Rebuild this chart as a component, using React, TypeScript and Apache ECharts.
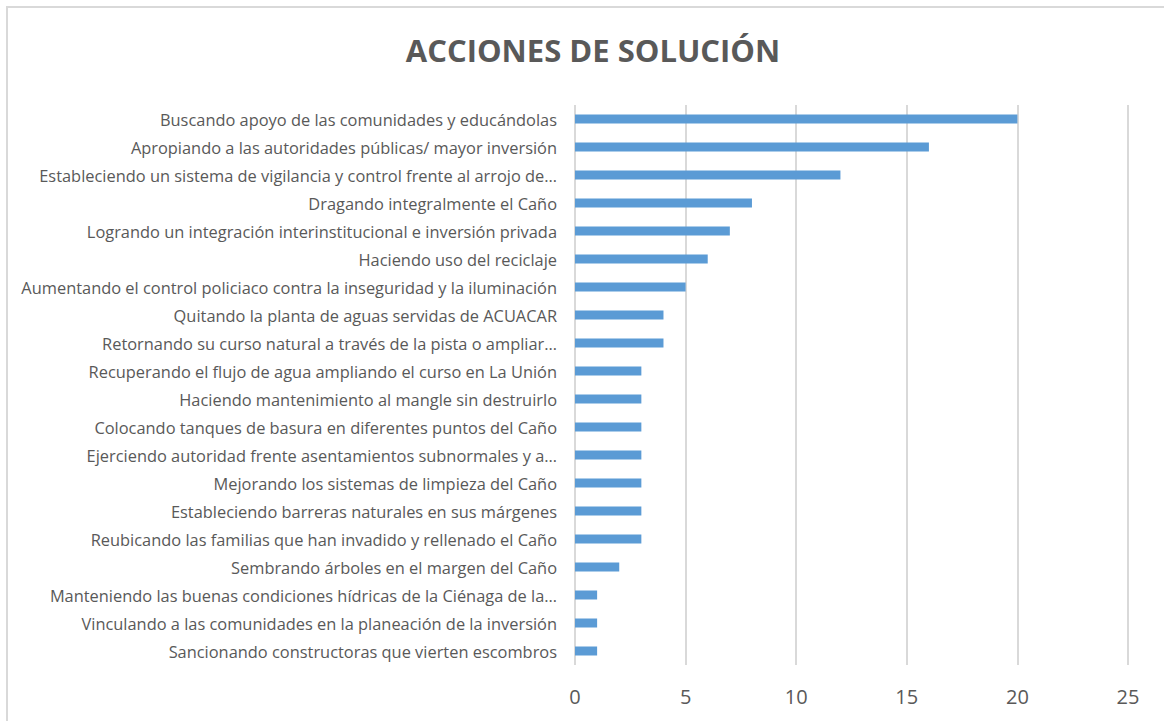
import React, { useEffect, useRef } from "react";
import * as echarts from "echarts";

const categories = [
  "Buscando apoyo de las comunidades y educándolas",
  "Apropiando a las autoridades públicas/ mayor inversión",
  "Estableciendo un sistema de vigilancia y control frente al arrojo de…",
  "Dragando integralmente el Caño",
  "Logrando un integración interinstitucional e inversión privada",
  "Haciendo uso del reciclaje",
  "Aumentando el control policiaco contra la inseguridad y la iluminación",
  "Quitando la planta de aguas servidas de ACUACAR",
  "Retornando su curso natural a través de la pista o ampliar…",
  "Recuperando el flujo de agua ampliando el curso en La Unión",
  "Haciendo mantenimiento al mangle sin destruirlo",
  "Colocando tanques de basura en diferentes puntos del Caño",
  "Ejerciendo autoridad frente asentamientos subnormales y a…",
  "Mejorando los sistemas de limpieza del Caño",
  "Estableciendo barreras naturales en sus márgenes",
  "Reubicando las familias que han invadido y rellenado el Caño",
  "Sembrando árboles en el margen del Caño",
  "Manteniendo las buenas condiciones hídricas de la Ciénaga de la…",
  "Vinculando a las comunidades en la planeación de la inversión",
  "Sancionando constructoras que vierten escombros",
];

const values = [20, 16, 12, 8, 7, 6, 5, 4, 4, 3, 3, 3, 3, 3, 3, 3, 2, 1, 1, 1];

const title = "ACCIONES DE SOLUCIÓN";

export default function App() {
  const ref = useRef<HTMLDivElement>(null);
  useEffect(() => {
    if (!ref.current) return;
    const chart = echarts.init(ref.current, null, { renderer: "svg" });
    chart.setOption({
      animation: false,
      backgroundColor: "transparent",
      title: {
        text: title,
        left: 588,
        top: 29,
        textAlign: "center",
        textStyle: {
          fontFamily: "Open Sans",
          fontWeight: "bold",
          fontSize: 31,
          color: "#595959",
        },
      },
      grid: { left: 575, right: 36, top: 105, bottom: 56 },
      xAxis: {
        type: "value",
        min: 0,
        max: 25,
        interval: 5,
        axisLine: { show: false },
        axisTick: { show: false },
        splitLine: { show: true, lineStyle: { color: "#d9d9d9", width: 2 } },
        axisLabel: {
          margin: 21,
          fontFamily: "Open Sans",
          fontSize: 20,
          color: "#595959",
        },
      },
      yAxis: {
        type: "category",
        data: categories,
        inverse: true,
        axisLine: { show: false },
        axisTick: { show: false },
        axisLabel: {
          margin: 18,
          fontFamily: "Open Sans",
          fontSize: 16.4,
          color: "#595959",
        },
      },
      series: [
        {
          type: "bar",
          data: values,
          barWidth: 9,
          itemStyle: { color: "#5b9bd5" },
        },
      ],
    });
    return () => chart.dispose();
  }, []);
  return (
    <div
      style={{
        position: "fixed",
        left: 0,
        top: 0,
        width: 1164,
        height: 721,
        background: "#fff",
        overflow: "hidden",
      }}
    >
      <div
        style={{
          position: "absolute",
          left: 6,
          top: 6,
          width: 1164,
          height: 730,
          border: "2px solid #d9d9d9",
          boxSizing: "border-box",
        }}
      />
      <div
        ref={ref}
        style={{ position: "absolute", left: 0, top: 0, width: 1164, height: 721 }}
      />
    </div>
  );
}
